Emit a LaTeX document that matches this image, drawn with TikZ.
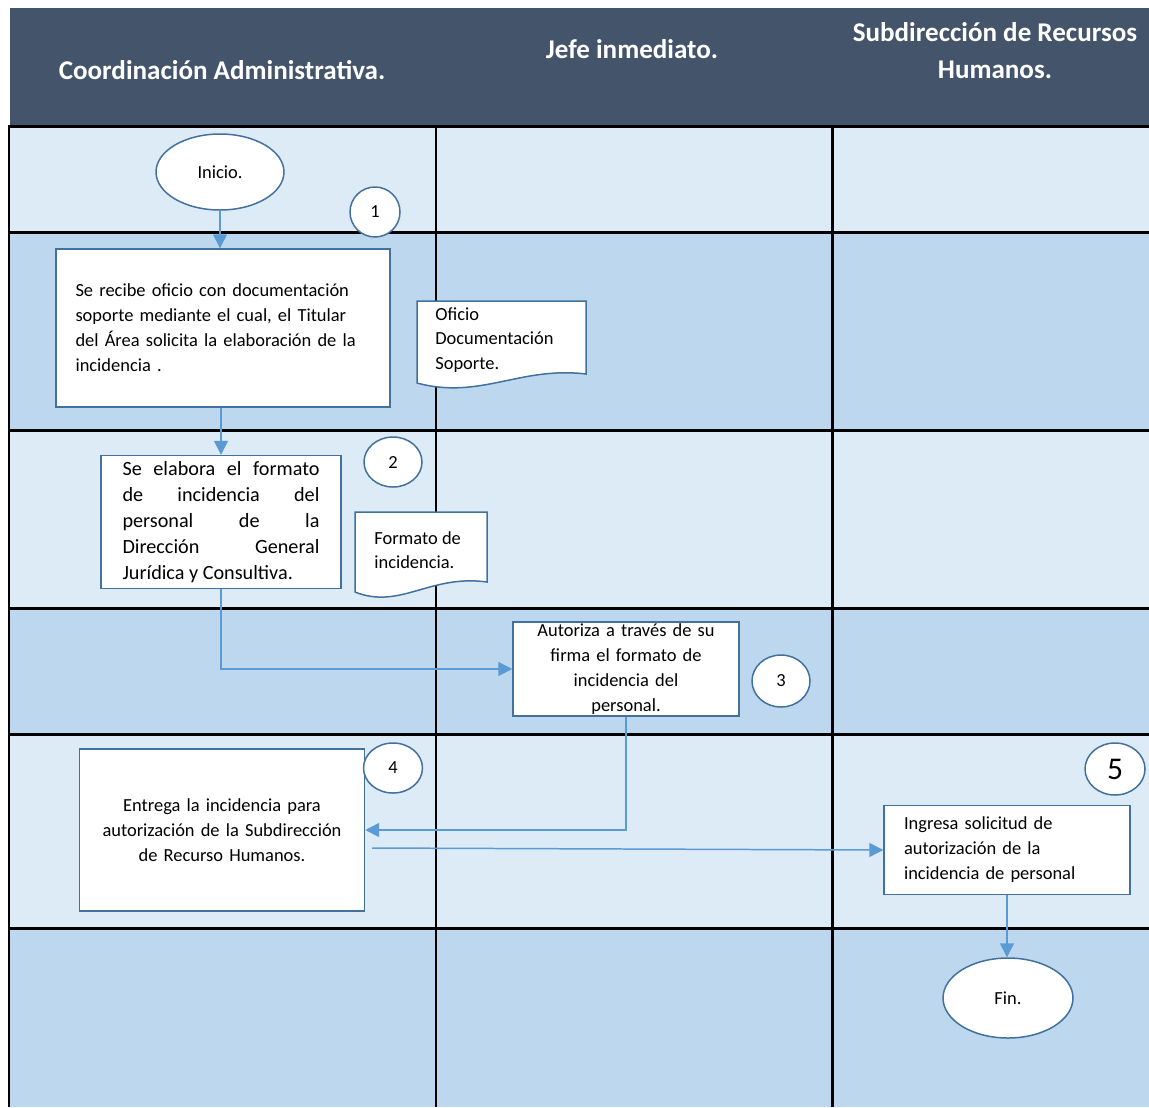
\documentclass[tikz,border=0pt]{standalone}
\usepackage{fontspec}
\setmainfont{Carlito}
\usetikzlibrary{shapes.geometric,arrows.meta,positioning}

\definecolor{hdrblue}{HTML}{44546A}
\definecolor{lanelight}{HTML}{DDEBF7}
\definecolor{lanemid}{HTML}{BDD7EE}
\definecolor{shapeblue}{HTML}{41719C}
\definecolor{flowblue}{HTML}{5B9BD5}

\tikzset{
  proc/.style={draw=shapeblue, line width=0.85pt, fill=white, rectangle, inner ysep=0pt,
    font=\fontsize{10.5}{14.2}\selectfont},
  term/.style={draw=shapeblue, line width=0.85pt, fill=white, ellipse, inner sep=0pt,
    font=\fontsize{10.5}{14.2}\selectfont},
  stepno/.style={draw=shapeblue, line width=0.85pt, fill=white, ellipse, inner sep=0pt,
    font=\fontsize{10.5}{14.2}\selectfont},
  doctext/.style={align=left, inner sep=0pt, font=\fontsize{10.5}{14}\selectfont},
  docline/.style={draw=shapeblue, line width=0.85pt, fill=white},
  flow/.style={draw=flowblue, line width=0.85pt, -{Triangle[length=0.28cm,width=0.28cm]}},
  grid/.style={black, line width=1.7pt},
  hdr/.style={text=white, font=\fontsize{15.4}{21}\selectfont\bfseries}
}

\begin{document}
\begin{tikzpicture}[x=0.02cm,y=-0.02cm]
\useasboundingbox (0,0) rectangle (1149,1107);

% encabezado
\fill[hdrblue] (10,8) rectangle (1149,126);
\node[hdr] (hcoord) at (222,70) {Coordinación Administrativa.};
\node[hdr] (hjefe) at (632,49) {Jefe inmediato.};
\node[hdr, align=center] (hsub) at (995,51) {Subdirección de Recursos\\Humanos.};

% carriles
\fill[lanelight] (10,126) rectangle (1149,232);
\fill[lanemid]   (10,232) rectangle (1149,430);
\fill[lanelight] (10,430) rectangle (1149,608);
\fill[lanemid]   (10,608) rectangle (1149,734);
\fill[lanelight] (10,734) rectangle (1149,928);
\fill[lanemid]   (10,928) rectangle (1149,1107);
\foreach \y in {126,232,430,608,734,928}
  \draw[grid] (8,\y) -- (1149,\y);
\foreach \x in {9,436,832}
  \draw[grid] (\x,126) -- (\x,1107);

% documentos
\draw[docline] (417,383) -- (417,301) -- (586,301) -- (586,374)
  .. controls (520,366) and (480,400) .. (417,383) -- cycle;
\node[doctext, anchor=west] (oficio) at (435,340) {Oficio\\Documentación\\Soporte.};
\draw[docline] (355,592) -- (355,512) -- (487,512) -- (487,582)
  .. controls (430,574) and (400,610) .. (355,592) -- cycle;
\node[doctext, anchor=west] (formato) at (374,550) {Formato de\\incidencia.};

% pasos
\node[term, minimum width=2.56cm, minimum height=1.52cm] (inicio) at (220,172) {Inicio.};
\node[stepno, minimum width=1cm, minimum height=1cm] (n1) at (375,212) {1};
\node[proc, minimum width=6.68cm, minimum height=3.16cm, text width=5.9cm, align=left]
  (recibe) at (223,328)
  {Se recibe oficio con documentación\\soporte mediante el cual, el Titular\\del Área solicita la elaboración de la\\incidencia .};

\node[proc, minimum width=4.8cm, minimum height=2.66cm, text width=3.94cm, align=justify,
  font=\fontsize{11.5}{14.9}\selectfont]
  (elabora) at (221,522)
  {Se elabora el formato\linebreak de incidencia del\linebreak personal de la\linebreak Dirección General\linebreak Jurídica y Consultiva.};
\node[stepno, minimum width=1.16cm, minimum height=1cm] (n2) at (393,462) {2};

\node[proc, minimum width=4.52cm, minimum height=1.88cm, text width=4.2cm, align=center]
  (autoriza) at (626,669)
  {Autoriza a través de su\\firma el formato de\\incidencia del\\personal.};
\node[stepno, minimum width=1.16cm, minimum height=1.04cm] (n3) at (781,681) {3};

\node[proc, minimum width=5.7cm, minimum height=3.24cm, text width=5cm, align=center]
  (entrega) at (222,830)
  {Entrega la incidencia para\\autorización de la Subdirección\\de Recurso Humanos.};
\node[stepno, minimum width=1.18cm, minimum height=1cm] (n4) at (393,768) {4};

\node[proc, minimum width=4.92cm, minimum height=1.78cm, text width=4.12cm, align=left]
  (ingresa) at (1007,850)
  {Ingresa solicitud de\\autorización de la\\incidencia de personal};
\node[stepno, minimum width=1.2cm, minimum height=1.04cm, font=\fontsize{18}{20}\selectfont]
  (n5) at (1115,769) {5};

\node[term, minimum width=2.6cm, minimum height=1.6cm] (fin) at (1008,998) {Fin.};

% flujo
\draw[flow] (inicio.south) -- (inicio.south |- recibe.north);
\draw[flow] (recibe.south -| elabora.north) -- (elabora.north);
\draw[flow] (elabora.south) |- (autoriza.west);
\draw[flow] (autoriza.south) |- (entrega.east);
\draw[flow] ([shift={(7,18)}]entrega.east) -- (ingresa.west);
\draw[flow] (ingresa.south) -- (ingresa.south |- fin.north);
\end{tikzpicture}
\end{document}
